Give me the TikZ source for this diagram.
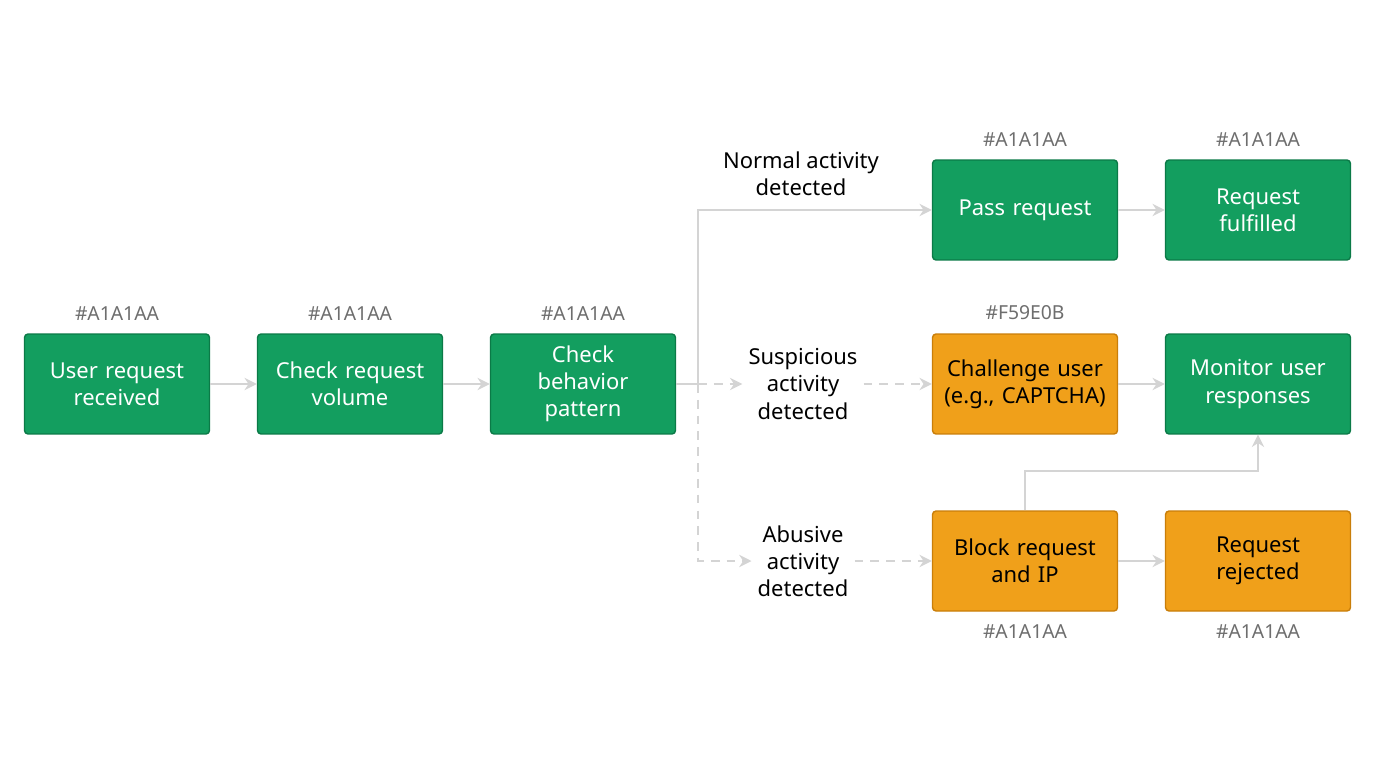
\documentclass[tikz,border=0pt]{standalone}
\usepackage{fontspec}
\setmainfont{Noto Sans}
\usetikzlibrary{positioning,arrows.meta}
\definecolor{boxgreen}{HTML}{139E5F}
\definecolor{edgegreen}{HTML}{0B7A47}
\definecolor{boxorange}{HTML}{F0A01A}
\definecolor{edgeorange}{HTML}{C97E0A}
\definecolor{linegrey}{HTML}{D4D4D4}
\definecolor{hexgrey}{HTML}{6E6E6E}
\begin{document}
\begin{tikzpicture}[x=0.02cm,y=-0.02cm]
	\tikzstyle{stage} = [draw=edgegreen, fill=boxgreen, rounded corners=2pt, thick, minimum width=3.7cm, minimum height=2cm, align=center, text width=3.4cm, font={\fontsize{12.5}{15.5}\selectfont}, text=white];
	\tikzstyle{alert} = [stage, draw=edgeorange, fill=boxorange, text=black];
	\tikzstyle{hex} = [font={\fontsize{11}{13}\selectfont}, text=hexgrey];
	\tikzstyle{cond} = [align=center, font={\fontsize{12.5}{15.5}\selectfont}];
	\tikzstyle{flow} = [-{Stealth[length=7pt,width=7pt]}, linegrey, line width=1.3pt];
	\tikzstyle{maybe} = [flow, dashed, dash pattern=on 5pt off 4pt];

	\useasboundingbox (0,0) rectangle (1376,768);

	\node[stage] (user) at (117,384) {User request\\received};
	\node[stage] (volume) at (350,384) {Check request\\volume};
	\node[stage] (pattern) at (583,384) {Check\\behavior\\pattern};
	\node[stage] (pass) at (1025,210) {Pass request};
	\node[stage] (done) at (1258,210) {Request\\fulfilled};
	\node[alert] (challenge) at (1025,384) {Challenge user\\(e.g., CAPTCHA)};
	\node[stage] (monitor) at (1258,384) {Monitor user\\responses};
	\node[alert] (block) at (1025,561) {Block request\\and IP};
	\node[alert] (reject) at (1258,561) {Request\\rejected};

	\node[hex, above=4pt of user] {\#A1A1AA};
	\node[hex, above=4pt of volume] {\#A1A1AA};
	\node[hex, above=4pt of pattern] {\#A1A1AA};
	\node[hex, above=4pt of pass] {\#A1A1AA};
	\node[hex, above=4pt of done] {\#A1A1AA};
	\node[hex, above=4pt of challenge] {\#F59E0B};
	\node[hex, below=4pt of block] {\#A1A1AA};
	\node[hex, below=4pt of reject] {\#A1A1AA};

	\node[cond] (normal) at (801,174) {Normal activity\\detected};
	\node[cond] (suspicious) at (803,384) {Suspicious\\activity\\detected};
	\node[cond] (abusive) at (803,561) {Abusive\\activity\\detected};

	\coordinate (fork) at (698,384);

	\draw[flow] (user) -- (volume);
	\draw[flow] (volume) -- (pattern);
	\draw[flow] (pattern.east) -- (fork) |- (pass);
	\draw[maybe] (fork) -- (suspicious);
	\draw[maybe] (fork) |- (abusive);
	\draw[maybe] (suspicious) -- (challenge);
	\draw[maybe] (abusive) -- (block);
	\draw[flow] (pass) -- (done);
	\draw[flow] (challenge) -- (monitor);
	\draw[flow] (block) -- (reject);
	\draw[flow] (block.north) -- ++(0,-39) -| (monitor.south);
\end{tikzpicture}
\end{document}
